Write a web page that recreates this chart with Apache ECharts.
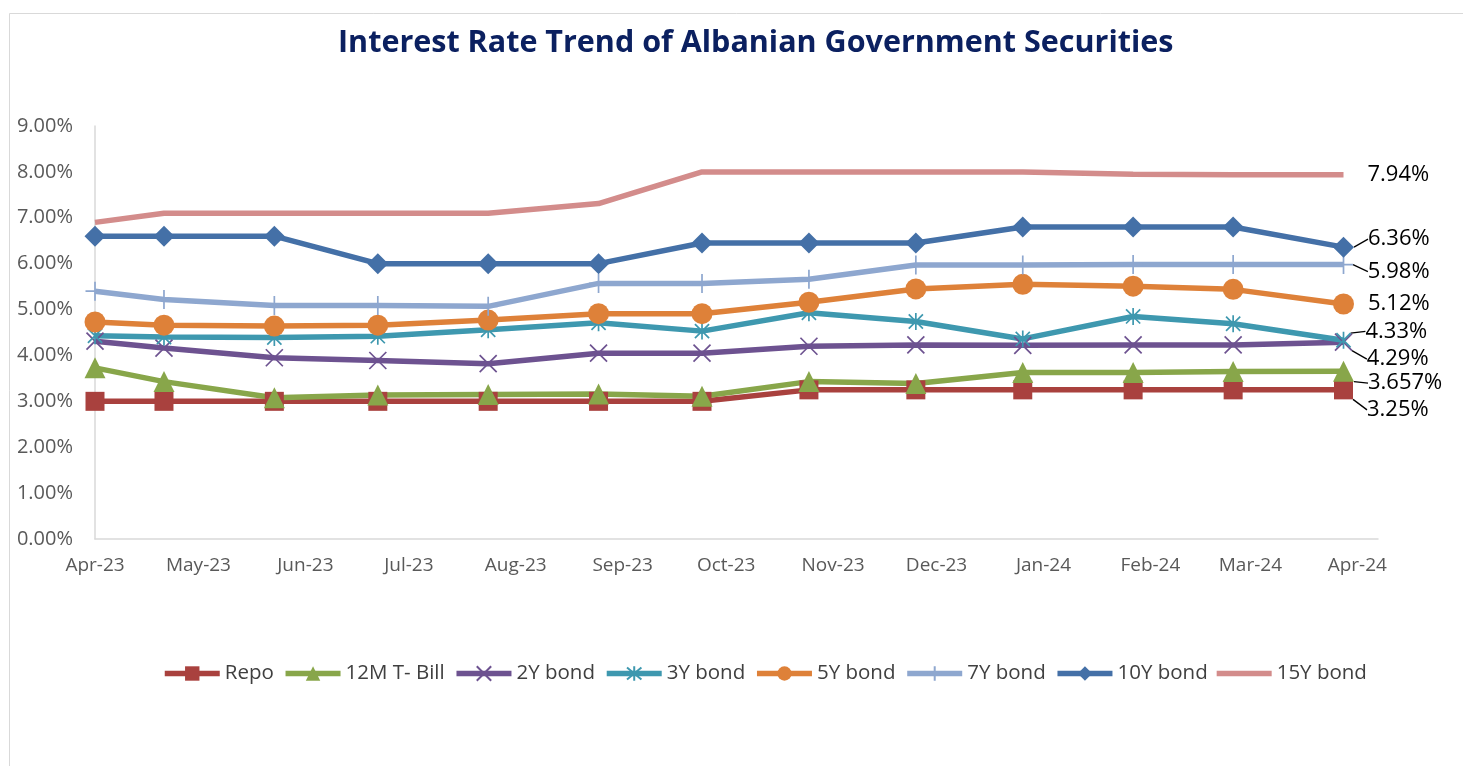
<!DOCTYPE html>
<html><head><meta charset="utf-8">
<script src="https://cdn.jsdelivr.net/npm/echarts@6/dist/echarts.min.js"></script>
<style>html,body{margin:0;padding:0;background:#fff}#c{width:1463px;height:766px}</style>
</head><body><div id="c"></div>
<script>
const dates = ['2023-04-01','2023-04-21','2023-05-23','2023-06-22','2023-07-24','2023-08-25','2023-09-24',
               '2023-10-25','2023-11-25','2023-12-26','2024-01-27','2024-02-25','2024-03-28'];
// Monthly tick labels on the x axis
const xTicks = ['2023-04-01','2023-05-01','2023-06-01','2023-07-01','2023-08-01','2023-09-01','2023-10-01',
                '2023-11-01','2023-12-01','2024-01-01','2024-02-01','2024-03-01','2024-04-01'];
const xMin = '2023-04-01';
const xMax = '2024-04-07';
// Rates in percent
const repo     = [3.00,3.00,3.00,3.00,3.00,3.00,3.00,3.25,3.25,3.25,3.25,3.25,3.25];
const tbill12m = [3.73,3.43,3.08,3.14,3.15,3.16,3.11,3.43,3.39,3.63,3.63,3.65,3.657];
const bond2y   = [4.31,4.16,3.95,3.89,3.82,4.05,4.05,4.20,4.23,4.22,4.23,4.23,4.29];
const bond3y   = [4.43,4.40,4.39,4.42,4.56,4.71,4.53,4.93,4.74,4.36,4.85,4.69,4.33];
const bond5y   = [4.73,4.66,4.64,4.66,4.77,4.91,4.91,5.16,5.45,5.55,5.51,5.44,5.12];
const bond7y   = [5.40,5.22,5.09,5.09,5.07,5.57,5.57,5.66,5.97,5.97,5.98,5.98,5.98];
const bond10y  = [6.60,6.60,6.60,6.00,6.00,6.00,6.45,6.45,6.45,6.80,6.80,6.80,6.36];
const bond15y  = [6.90,7.10,7.10,7.10,7.10,7.31,8.00,8.00,8.00,8.00,7.95,7.94,7.94];
const yTicks = [0,1,2,3,4,5,6,7,8,9];

const ms = s => { const p = s.split('-').map(Number); return Date.UTC(p[0], p[1]-1, p[2]); };
const MON = ['Jan','Feb','Mar','Apr','May','Jun','Jul','Aug','Sep','Oct','Nov','Dec'];
const fmtDate = v => { const d = new Date(v); return MON[d.getUTCMonth()] + '-' + String(d.getUTCFullYear()).slice(2); };

const FONT = 'Open Sans';
const X_PATH = 'path://M0,0L10,10M10,0L0,10';
const AST_PATH = 'path://M0,0L10,10M10,0L0,10M5,-1L5,11';
const PLUS_PATH = 'path://M5,0L5,10M0,5L10,5';
const BAR_ICON = 'path://M0,0L55,0L55,5.5L0,5.5Z';

const defs = [
  {name:'Repo',        data:repo,     color:'#A9413E', symbol:'rect',     size:19, dy:20},
  {name:'12M T- Bill', data:tbill12m, color:'#88A64A', symbol:'triangle', size:21, dy:12},
  {name:'2Y bond',     data:bond2y,   color:'#6D5290', symbol:X_PATH,     size:17, dy:17, stroke:true},
  {name:'3Y bond',     data:bond3y,   color:'#3E98AF', symbol:AST_PATH,   size:17, dy:-9, stroke:true},
  {name:'5Y bond',     data:bond5y,   color:'#DE8139', symbol:'circle',   size:21, dy:0},
  {name:'7Y bond',     data:bond7y,   color:'#8EA7CF', symbol:PLUS_PATH,  size:19, dy:7, stroke:true},
  {name:'10Y bond',    data:bond10y,  color:'#4470A7', symbol:'diamond',  size:21, dy:-8},
  {name:'15Y bond',    data:bond15y,  color:'#D38C8B', symbol:'none',     size:0,  dy:0}
];

const LABEL_FONT = 22;
const series = defs.map(d => {
  const n = d.data.length;
  const s = {
    name: d.name, type: 'line',
    symbol: d.symbol, symbolSize: d.size, showSymbol: d.symbol !== 'none', symbolKeepAspect: true,
    lineStyle: {color: d.color, width: 5.5},
    itemStyle: {color: d.color, borderColor: d.color, borderWidth: d.stroke ? 1.7 : 0},
    label: {show: false},
    emphasis: {disabled: true}, animation: false
  };
  if (d.symbol === 'none') {
    s.data = d.data.map((v,i) => [ms(dates[i]), v]);
    s.endLabel = {show: true, formatter: p => p.value[1] + '%', distance: 24,
                  fontFamily: FONT, fontSize: LABEL_FONT, color: '#000'};
  } else {
    s.data = d.data.map((v,i) => {
      const item = {value: [ms(dates[i]), v]};
      if (i === n - 1) {
        item.label = {show: true, position: 'right', distance: 14, fontFamily: FONT,
                      fontSize: LABEL_FONT, color: '#000', formatter: p => p.value[1] + '%'};
        item.labelLine = {show: d.dy !== 0, length2: 0, lineStyle: {color: '#000', width: 1.3}};
      }
      return item;
    });
    s.labelLayout = p => (p.dataIndex === n - 1 ? {dy: d.dy} : {});
  }
  return s;
});

const chart = echarts.init(document.getElementById('c'));
chart.setOption({
  backgroundColor: '#fff',
  animation: false,
  title: {text: 'Interest Rate Trend of Albanian Government Securities', left: 333, top: 23,
          textStyle: {fontFamily: FONT, fontWeight: 'bold', fontSize: 30.5, color: '#0B2060'}},
  graphic: [{type: 'rect', shape: {x: 9.5, y: 13.5, width: 1500, height: 800},
             style: {fill: 'none', stroke: '#D9D9D9', lineWidth: 1}, silent: true}],
  grid: {left: 95, right: 85, top: 126, bottom: 227, containLabel: false},
  legend: {top: 658, left: 157, itemWidth: 55, itemHeight: 18, itemGap: 9,
           lineStyle: {width: 5.5},
           textStyle: {fontFamily: FONT, fontSize: 20.5, color: '#404040'},
           data: defs.map(d => d.symbol === 'none' ? {name: d.name, icon: BAR_ICON} : {name: d.name})},
  xAxis: {type: 'value', min: ms(xMin), max: ms(xMax),
          axisLine: {show: true, lineStyle: {color: '#D9D9D9', width: 1.5}},
          axisTick: {show: false, customValues: xTicks.map(ms)},
          splitLine: {show: false},
          axisLabel: {customValues: xTicks.map(ms), formatter: fmtDate, margin: 17,
                      fontFamily: FONT, fontSize: 19, color: '#595959'}},
  yAxis: {type: 'value', min: 0, max: 9, interval: 1,
          axisLine: {show: true, lineStyle: {color: '#D9D9D9', width: 1.5}},
          axisTick: {show: false}, splitLine: {show: false},
          axisLabel: {customValues: yTicks, formatter: v => v.toFixed(2) + '%', margin: 22,
                      fontFamily: FONT, fontSize: 20, color: '#595959'}},
  series: series
});
</script></body></html>
